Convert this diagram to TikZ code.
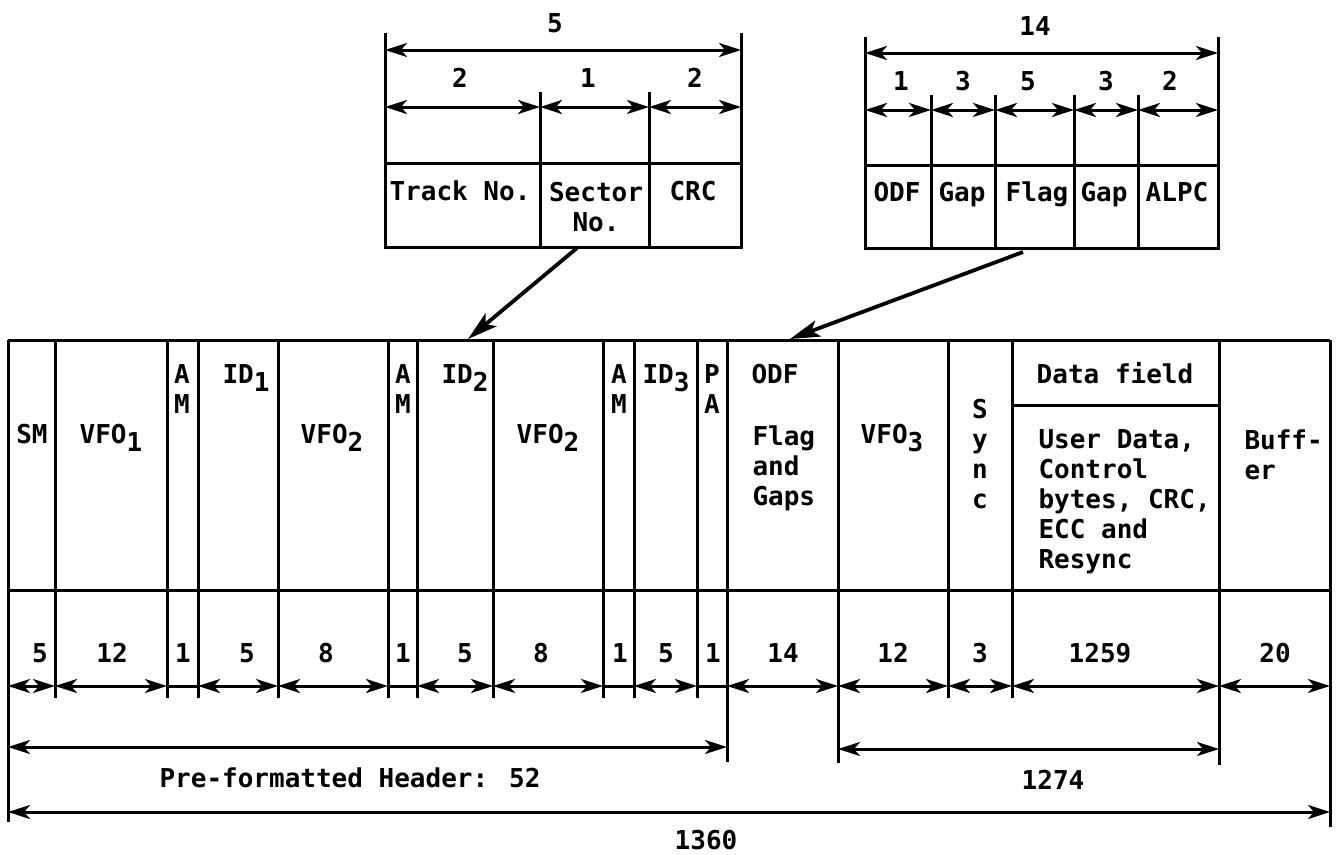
\documentclass[tikz,border=0pt]{standalone}
\usepackage{fontspec}
\setmainfont{DejaVu Sans Mono}
\usetikzlibrary{arrows.meta}
\newcommand{\lowsub}[1]{\raisebox{-0.32em}{#1}}

\begin{document}
\begin{tikzpicture}[x=1pt,y=-1pt,line width=3pt,
  dim/.style={{Stealth[length=22pt,width=14pt,inset=6pt]}-{Stealth[length=22pt,width=14pt,inset=6pt]}},
  pointer/.style={-{Stealth[length=30pt,width=17pt,inset=7pt]},line width=3.8pt},
  every node/.style={font=\fontsize{26}{30}\selectfont\bfseries,inner sep=0pt},
  lbl/.style={anchor=base}]
\useasboundingbox (0,0) rectangle (1340,854);
% ID field detail
\draw (385,33) -- (385,247) -- (741,247) -- (741,33);
\draw (540,92) -- (540,247);
\draw (649,92) -- (649,247);
\draw (385,163) -- (741,163);
\draw[dim] (385,50) -- (741,50);
\draw[dim] (385,107) -- (540,107);
\draw[dim] (540,107) -- (649,107);
\draw[dim] (649,107) -- (741,107);
\node (idlen) [lbl] at (555,32) {5};
\node (tracklen) [lbl] at (460,87) {2};
\node (sectorlen) [lbl] at (588,87) {1};
\node (crclen) [lbl] at (695,87) {2};
\node (track) [lbl] at (460,200) {Track No.};
\node (sector) [anchor=north,align=center] at (596,181) {Sector\\No.};
\node (crc) [lbl] at (693,200) {CRC};
% ODF field detail
\draw (865,37) -- (865,248) -- (1218,248) -- (1218,37);
\foreach \x in {931,995,1074,1138} \draw (\x,95) -- (\x,248);
\draw (865,165) -- (1218,165);
\draw[dim] (865,53) -- (1218,53);
\foreach \a/\b in {865/931,931/995,995/1074,1074/1138,1138/1218} \draw[dim] (\a,110) -- (\b,110);
\node (odflen) [lbl] at (1035,35) {14};
\foreach \x/\t [count=\i] in {901/1,963/3,1028/5,1106/3,1170/2} \node (odfpart\i) [lbl] at (\x,90) {\t};
\foreach \x/\t [count=\i] in {897/ODF,962/Gap,1037/Flag,1104/Gap,1177/ALPC} \node (odfname\i) [lbl] at (\x,201) {\t};
% pointers into the sector
\coordinate (idfoot) at (577,248);
\coordinate (idin) at (468,339);
\coordinate (odffoot) at (1023,252);
\coordinate (odfin) at (790,339);
\draw[pointer] (idfoot) -- (idin);
\draw[pointer] (odffoot) -- (odfin);
% sector format
\draw (8,340) -- (1330,340);
\draw (8,590) -- (1330,590);
\draw (1012,405) -- (1219,405);
\draw (8,340) -- (8,822);
\draw (1330,340) -- (1330,827);
\foreach \x in {55,167,198,278,388,417,493,603,634,697,948,1012} \draw (\x,340) -- (\x,698);
\draw (727,340) -- (727,762);
\draw (838,340) -- (838,763);
\draw (1219,340) -- (1219,765);
\node (sm) [lbl] at (32,443) {SM};
\node (vfo1) [lbl] at (111,443) {VFO\lowsub{1}};
\node (am1) [anchor=north,align=center] at (182,363) {A\\M};
\node (id1) [lbl] at (246,383) {ID\lowsub{1}};
\node (vfo2a) [lbl] at (332,443) {VFO\lowsub{2}};
\node (am2) [anchor=north,align=center] at (403,363) {A\\M};
\node (id2) [lbl] at (465,383) {ID\lowsub{2}};
\node (vfo2b) [lbl] at (548,443) {VFO\lowsub{2}};
\node (am3) [anchor=north,align=center] at (619,363) {A\\M};
\node (id3) [lbl] at (666,383) {ID\lowsub{3}};
\node (pa) [anchor=north,align=center] at (712,363) {P\\A};
\node (odf) [lbl,anchor=base west] at (750,383) {ODF};
\node (flags) [anchor=north west,align=left] at (751,424) {Flag\\and\\Gaps};
\node (vfo3) [lbl] at (892,443) {VFO\lowsub{3}};
\node (sync) [anchor=north,align=center] at (980,398) {S\\y\\n\\c};
\node (datafield) [lbl] at (1115,383) {Data field};
\node (userdata) [anchor=north west,align=left] at (1037,428) {User Data,\\Control\\bytes, CRC,\\ECC and\\Resync};
\node (buffer) [anchor=north west,align=left] at (1243,428) {Buff-\\er};
% field lengths
\foreach \x/\t [count=\i] in {40/5,112/12,183/1,247/5,326/8,403/1,465/5,541/8,620/1,666/5,713/1,783/14,893/12,980/3,1100/1259,1275/20} \node (len\i) [lbl] at (\x,662) {\t};
\foreach \a/\b in {8/55,55/167,198/278,278/388,417/493,493/603,634/697,727/838,838/948,948/1012,1012/1219,1219/1330} \draw[dim] (\a,686) -- (\b,686);
\foreach \a/\b in {167/198,388/417,603/634,697/727} \draw (\a,686) -- (\b,686);
% totals
\draw[dim] (8,747) -- (727,747);
\draw[dim] (838,749) -- (1219,749);
\draw[dim] (8,812) -- (1330,812);
\node (header) [lbl] at (350,787) {Pre-formatted Header: 52};
\node (datalen) [lbl] at (1053,789) {1274};
\node (total) [lbl] at (706,849) {1360};
\end{tikzpicture}
\end{document}
